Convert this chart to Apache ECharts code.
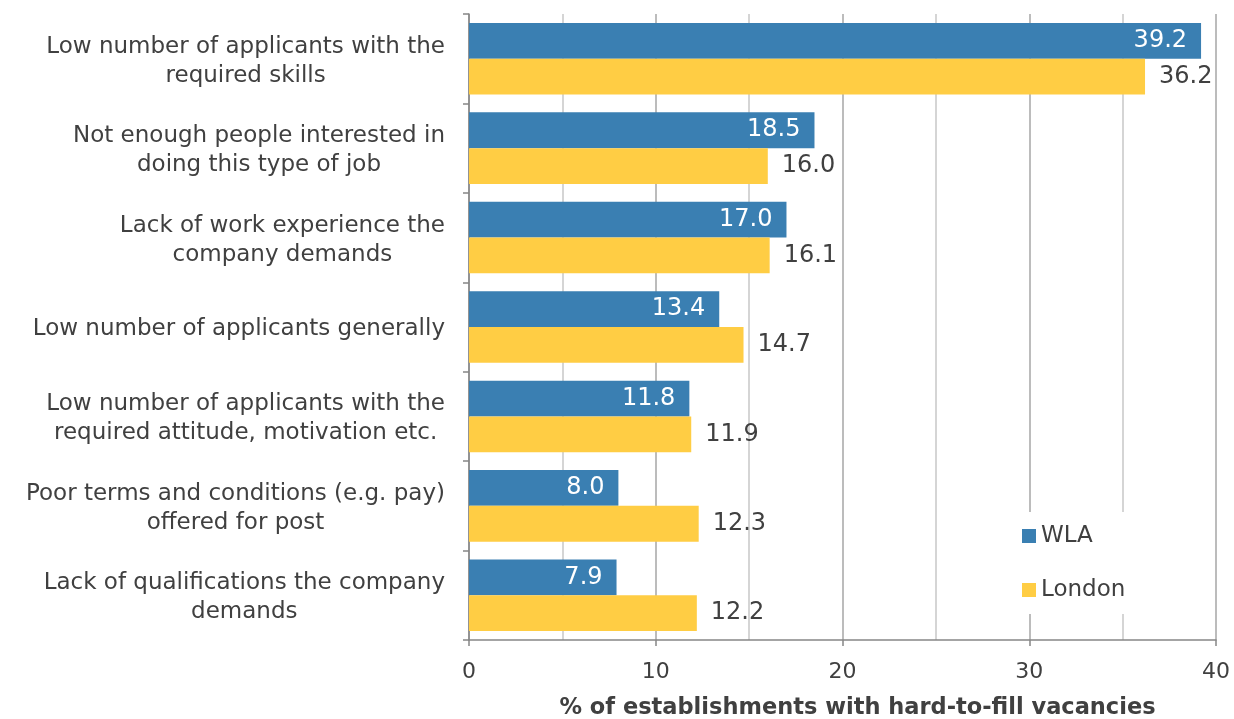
<!DOCTYPE html>
<html>
<head>
<meta charset="utf-8">
<script src="https://cdn.jsdelivr.net/npm/echarts@6/dist/echarts.min.js"></script>
<style>
  html, body { margin: 0; padding: 0; background: #fff; }
  #chart { width: 1234px; height: 719px; }
</style>
</head>
<body>
<div id="chart"></div>
<script>
const categories = [
  "Low number of applicants with the\nrequired skills",
  "Not enough people interested in\ndoing this type of job",
  "Lack of work experience the\ncompany demands",
  "Low number of applicants generally",
  "Low number of applicants with the\nrequired attitude, motivation etc.",
  "Poor terms and conditions (e.g. pay)\noffered for post",
  "Lack of qualifications the company\ndemands"
];
const wlaValues = [39.2, 18.5, 17.0, 13.4, 11.8, 8.0, 7.9];
const londonValues = [36.2, 16.0, 16.1, 14.7, 11.9, 12.3, 12.2];
const seriesNames = ["WLA", "London"];
const axisTitle = "% of establishments with hard-to-fill vacancies";

const FONT = "DejaVu Sans";
const TXT = "#404040";
const AX = "#868686";

const chart = echarts.init(document.getElementById('chart'), null, { renderer: 'canvas' });
chart.setOption({
  animation: false,
  backgroundColor: '#fff',
  textStyle: { fontFamily: FONT },
  grid: { left: 469, right: 18, top: 14, bottom: 79, containLabel: false, outerBoundsMode: 'none' },
  legend: {
    orient: 'vertical',
    left: 1010,
    top: 512,
    data: seriesNames,
    icon: 'rect',
    itemWidth: 14,
    itemHeight: 14,
    itemGap: 30,
    backgroundColor: '#fff',
    padding: [12, 30, 12, 12],
    textStyle: { fontFamily: FONT, fontSize: 23, lineHeight: 24, color: TXT }
  },
  xAxis: {
    type: 'value',
    min: 0,
    max: 40,
    interval: 10,
    axisLine: { show: true, lineStyle: { color: AX, width: 1.5 } },
    axisTick: { show: true, length: 6, lineStyle: { color: AX, width: 1.5 } },
    axisLabel: { fontFamily: FONT, fontSize: 22, color: TXT, margin: 21 },
    splitLine: { show: true, lineStyle: { color: '#a6a6a6', width: 1.5 } },
    minorTick: { show: false, splitNumber: 2 },
    minorSplitLine: { show: true, lineStyle: { color: '#c8c8c8', width: 1.5 } },
    name: axisTitle,
    nameLocation: 'middle',
    nameGap: 57,
    nameTextStyle: { fontFamily: FONT, fontSize: 22.5, fontWeight: 'bold', color: TXT, padding: [0, 0, 0, 30] }
  },
  yAxis: {
    type: 'category',
    inverse: true,
    data: categories,
    axisLine: { show: true, lineStyle: { color: AX, width: 1.5 } },
    axisTick: { show: true, length: 6, lineStyle: { color: AX, width: 1.5 } },
    axisLabel: {
      margin: 24,
      padding: [5, 0, 0, 0],
      formatter: function (v) {
        return v.split('\n').map(function (l) { return '{c|' + l + '}'; }).join('\n');
      },
      rich: {
        c: { align: 'center', fontFamily: FONT, fontSize: 23, lineHeight: 29, color: TXT }
      }
    },
    splitLine: { show: false }
  },
  series: [
    {
      name: seriesNames[0],
      type: 'bar',
      data: wlaValues,
      barGap: '0%',
      barCategoryGap: '20%',
      itemStyle: { color: '#3A7FB2' },
      label: {
        show: true,
        position: 'insideRight',
        distance: 14,
        color: '#fff',
        fontFamily: FONT,
        fontSize: 24,
        formatter: function (p) { return p.value.toFixed(1); }
      }
    },
    {
      name: seriesNames[1],
      type: 'bar',
      data: londonValues,
      barGap: '0%',
      barCategoryGap: '20%',
      itemStyle: { color: '#FFCD44' },
      label: {
        show: true,
        position: 'right',
        distance: 14,
        color: TXT,
        fontFamily: FONT,
        fontSize: 24,
        formatter: function (p) { return p.value.toFixed(1); }
      }
    }
  ]
});
</script>
</body>
</html>
